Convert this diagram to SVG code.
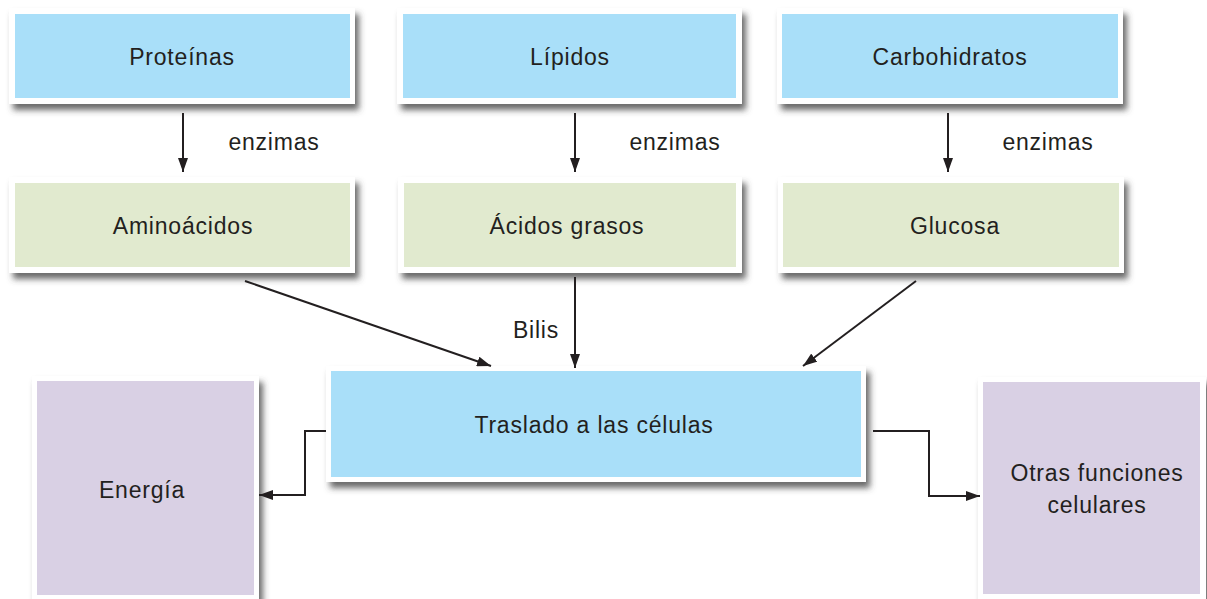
<svg xmlns="http://www.w3.org/2000/svg" width="1207" height="599" viewBox="0 0 1207 599">
<style>
.frame{fill:#ffffff;filter:url(#sh)}
.blue{fill:#a9dff9}
.green{fill:#e1eacf}
.purple{fill:#d9d0e4}
text{font-family:"Liberation Sans",Arial,sans-serif;font-size:23px;letter-spacing:0.8px;fill:#231f20;text-anchor:middle;dominant-baseline:central}
.c{fill:none;stroke:#231f20;stroke-width:2}
</style>
<defs>
<filter id="sh" x="-10%" y="-10%" width="125%" height="130%">
<feDropShadow dx="4" dy="6" stdDeviation="3" flood-color="#444" flood-opacity="0.8"/>
</filter>
<marker id="ah" viewBox="0 0 14 10" refX="14" refY="5" markerWidth="14" markerHeight="10" markerUnits="userSpaceOnUse" orient="auto">
<path d="M0,0 L14,5 L0,10 Z" fill="#231f20"/>
</marker>
</defs>
<g id="proteinas"><rect class="frame" x="9" y="8" width="346" height="96"/><rect class="blue" x="15" y="14" width="335" height="84"/><text x="182" y="57">Proteínas</text></g>
<g id="lipidos"><rect class="frame" x="397" y="8" width="345" height="96"/><rect class="blue" x="403" y="14" width="333" height="84"/><text x="570" y="57">Lípidos</text></g>
<g id="carbohidratos"><rect class="frame" x="777" y="8" width="346" height="96"/><rect class="blue" x="782" y="14" width="336" height="84"/><text x="950" y="57">Carbohidratos</text></g>
<g id="aminoacidos"><rect class="frame" x="9" y="177" width="346" height="96"/><rect class="green" x="15" y="183" width="335" height="84"/><text x="183" y="226">Aminoácidos</text></g>
<g id="acidos"><rect class="frame" x="398" y="177" width="344" height="96"/><rect class="green" x="404" y="183" width="332" height="84"/><text x="567" y="226">Ácidos grasos</text></g>
<g id="glucosa"><rect class="frame" x="778" y="177" width="346" height="96"/><rect class="green" x="783" y="183" width="336" height="84"/><text x="955" y="226">Glucosa</text></g>
<g id="traslado"><rect class="frame" x="326" y="366" width="540" height="116"/><rect class="blue" x="331" y="371" width="530" height="106"/><text x="594" y="425">Traslado a las células</text></g>
<g id="energia"><rect class="frame" x="32" y="376" width="227" height="230"/><rect class="purple" x="37" y="381" width="217" height="214"/><text x="142" y="490">Energía</text></g>
<g id="otras"><rect class="frame" x="978" y="377" width="228" height="230"/><rect class="purple" x="983" y="382" width="217" height="212"/><text x="1097" y="473">Otras funciones</text><text x="1097" y="505">celulares</text></g>
<g id="connectors">
<line class="c" x1="183" y1="113" x2="183" y2="172" marker-end="url(#ah)"/>
<line class="c" x1="575" y1="113" x2="575" y2="172" marker-end="url(#ah)"/>
<line class="c" x1="948" y1="113" x2="948" y2="172" marker-end="url(#ah)"/>
<line class="c" x1="245" y1="281" x2="491" y2="366" marker-end="url(#ah)"/>
<line class="c" x1="575" y1="277" x2="575" y2="368" marker-end="url(#ah)"/>
<line class="c" x1="916" y1="281" x2="803" y2="366" marker-end="url(#ah)"/>
<polyline class="c" points="326,431 305,431 305,495 259,495" marker-end="url(#ah)"/>
<polyline class="c" points="873,431 929,431 929,496 980,496" marker-end="url(#ah)"/>
<text x="274" y="142">enzimas</text>
<text x="675" y="142">enzimas</text>
<text x="1048" y="142">enzimas</text>
<text x="536" y="330">Bilis</text>
</g>
</svg>
